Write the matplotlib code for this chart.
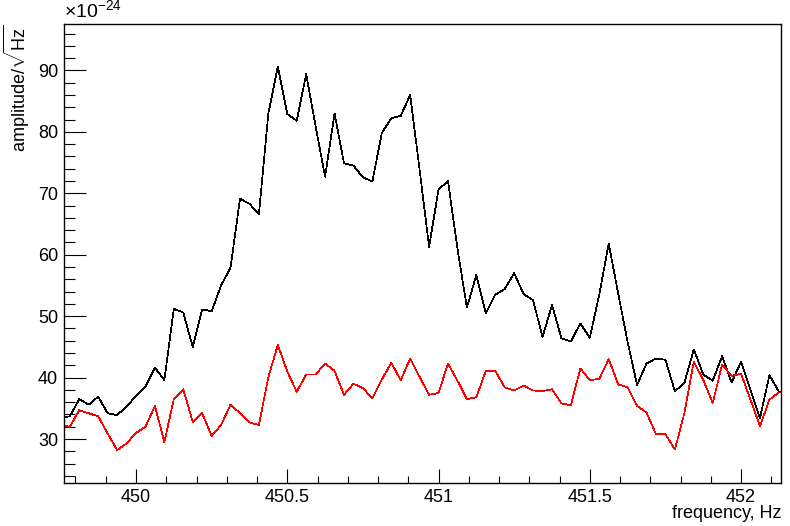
import numpy as np
import matplotlib
matplotlib.use("Agg")
import matplotlib.pyplot as plt
from matplotlib.ticker import MultipleLocator

# ROOT-like look: Arial style text, plain white frame
plt.rcParams['font.family'] = ['Liberation Sans', 'DejaVu Sans']
plt.rcParams['mathtext.fontset'] = 'custom'
plt.rcParams['mathtext.rm'] = 'Liberation Sans'
plt.rcParams['mathtext.it'] = 'Liberation Sans:italic'

# frequency bins (Hz): first bin and bin width
freq_start = 449.75
freq_step = 1.0 / 32

# amplitude in units of 1e-24 / sqrt(Hz)
black_amp = [33.5, 33.7, 36.5, 35.6, 36.9, 34.2, 33.9, 35.3, 37.0, 38.5,
             41.6, 39.6, 51.2, 50.6, 45.0, 51.1, 50.8, 55.0, 57.9, 69.1,
             68.3, 66.6, 83.0, 90.6, 82.9, 81.8, 89.4, 80.9, 72.7, 83.0,
             74.9, 74.5, 72.6, 71.9, 79.8, 82.2, 82.6, 86.0, 73.8, 61.3,
             70.6, 72.0, 61.0, 51.4, 56.7, 50.5, 53.5, 54.4, 57.0, 53.6,
             52.6, 46.6, 51.8, 46.4, 45.9, 48.8, 46.5, 53.5, 61.8, 53.7,
             45.8, 38.8, 42.3, 43.1, 42.9, 37.8, 39.1, 44.6, 40.5, 39.5,
             43.5, 39.2, 42.6, 38.0, 33.4, 40.4, 37.7, 37.2]
red_amp = [32.3, 32.0, 34.7, 34.2, 33.7, 30.9, 28.2, 29.3, 31.0, 32.0,
           35.4, 29.5, 36.5, 38.1, 32.8, 34.2, 30.5, 32.3, 35.6, 34.2,
           32.7, 32.3, 40.1, 45.3, 41.0, 37.7, 40.5, 40.5, 42.3, 41.1,
           37.2, 39.0, 38.3, 36.6, 39.7, 42.4, 39.6, 43.1, 40.1, 37.2,
           37.5, 42.3, 39.5, 36.5, 36.8, 41.1, 41.1, 38.4, 37.9, 38.7,
           37.9, 37.8, 38.1, 35.8, 35.5, 41.5, 39.6, 39.8, 43.0, 38.9,
           38.4, 35.4, 34.3, 30.8, 30.8, 28.3, 34.2, 42.6, 39.6, 35.9,
           42.1, 40.3, 40.6, 36.4, 32.1, 36.4, 37.6, 37.6]

freq = freq_start + freq_step * np.arange(len(black_amp))

fig = plt.figure(figsize=(7.9, 5.26), dpi=100)
ax = fig.add_axes([64.3 / 790, 42.7 / 526, (781 - 64.3) / 790, (483.3 - 24.3) / 526])

ax.plot(freq, black_amp, color='black', lw=0.5, antialiased=False)
ax.plot(freq, red_amp, color='red', lw=0.5, antialiased=False)

ax.set_xlim(449.763, 452.132)
ax.set_ylim(22.8, 97.5)

ax.xaxis.set_major_locator(MultipleLocator(0.5))
ax.xaxis.set_minor_locator(MultipleLocator(0.1))
ax.yaxis.set_major_locator(MultipleLocator(10))
ax.yaxis.set_minor_locator(MultipleLocator(2))
ax.xaxis.set_major_formatter(plt.FuncFormatter(lambda v, p: ('%g' % v)))

ax.tick_params(axis='x', which='major', direction='in', length=10, width=0.8,
               labelsize=13, pad=4, top=False)
ax.tick_params(axis='x', which='minor', direction='in', length=5, width=0.8, top=False)
ax.tick_params(axis='y', which='major', direction='in', length=15.8, width=0.8,
               labelsize=13, pad=4.5, right=False)
ax.tick_params(axis='y', which='minor', direction='in', length=7.9, width=0.8, right=False)
for s in ax.spines.values():
    s.set_linewidth(1.0)

# exponent above the y axis
ax.text(0.0, 1.008, r'$\times$10$^{-24}$', transform=ax.transAxes,
        fontsize=14, ha='left', va='bottom')

fig.text(17 / 790, 1 - 24 / 526, r'amplitude/$\sqrt{\mathrm{Hz}}$', rotation=90,
         fontsize=13, ha='center', va='top')
fig.text(781 / 790, 1 - 514 / 526, 'frequency, Hz', fontsize=13, ha='right', va='center')

plt.savefig('out.png', dpi=100)
